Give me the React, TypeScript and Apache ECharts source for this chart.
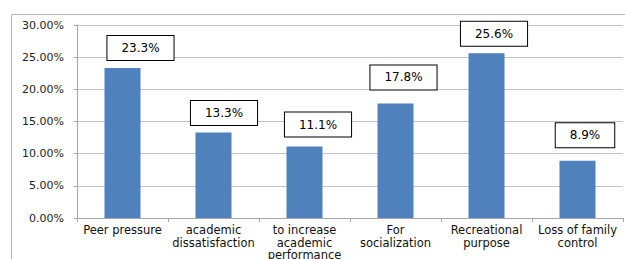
import React, { useEffect, useRef } from "react";
import * as echarts from "echarts";

const categories = [
  "Peer pressure",
  "academic\ndissatisfaction",
  "to increase\nacademic\nperformance",
  "For\nsocialization",
  "Recreational\npurpose",
  "Loss of family\ncontrol",
];
const values = [23.3, 13.3, 11.1, 17.8, 25.6, 8.9];
const valueLabels = ["23.3%", "13.3%", "11.1%", "17.8%", "25.6%", "8.9%"];

// label box offsets (styling only)
const labelOffsets: [number, number][] = [
  [18, -8],
  [10.5, -7.5],
  [13.5, -10],
  [8, -14],
  [7.5, -7.5],
  [7.5, -13.5],
];

const FONT = "DejaVu Sans, Verdana, sans-serif";

export default function App() {
  const ref = useRef<HTMLDivElement>(null);
  useEffect(() => {
    if (!ref.current) return;
    const chart = echarts.init(ref.current, undefined, { renderer: "svg" });
    chart.setOption({
      animation: false,
      backgroundColor: "#ffffff",
      graphic: [
        {
          type: "rect",
          shape: { x: 11.5, y: 14.5, width: 700, height: 300 },
          style: { fill: "none", stroke: "#b3b3b3", lineWidth: 1 },
          silent: true,
        },
      ],
      grid: {
        left: 77,
        right: 2,
        top: 25,
        bottom: 41,
        containLabel: false,
        outerBoundsMode: "none",
      },
      xAxis: {
        type: "category",
        data: categories,
        axisLine: { show: true, lineStyle: { color: "#a6a6a6", width: 1 } },
        axisTick: { show: true, alignWithLabel: false, length: 4, lineStyle: { color: "#a6a6a6" } },
        axisLabel: {
          interval: 0,
          color: "#111",
          fontFamily: FONT,
          fontSize: 11.5,
          lineHeight: 12.5,
          margin: 6,
        },
      },
      yAxis: {
        type: "value",
        min: 0,
        max: 30,
        interval: 5,
        axisLine: { show: true, lineStyle: { color: "#a6a6a6", width: 1 } },
        axisTick: { show: true, length: 3, lineStyle: { color: "#a6a6a6" } },
        splitLine: { show: true, lineStyle: { color: "#c4c4c4", width: 1 } },
        axisLabel: {
          color: "#222",
          fontFamily: FONT,
          fontSize: 11,
          margin: 13,
          formatter: (v: number) => v.toFixed(2) + "%",
        },
      },
      series: [
        {
          type: "bar",
          barWidth: 36,
          itemStyle: { color: "#4f81bd" },
          data: values.map((v, i) => ({
            value: v,
            label: {
              show: true,
              position: "top",
              distance: 0,
              offset: labelOffsets[i],
              formatter: valueLabels[i],
              color: "#000",
              fontFamily: FONT,
              fontSize: 12,
              lineHeight: 14,
              backgroundColor: "#ffffff",
              borderColor: "#000",
              borderWidth: 1,
              padding: [5, 14, 5, 14],
            },
          })),
        },
      ],
    });
    return () => chart.dispose();
  }, []);
  return (
    <div
      ref={ref}
      style={{ position: "fixed", left: 0, top: 0, width: 625, height: 259 }}
    />
  );
}
